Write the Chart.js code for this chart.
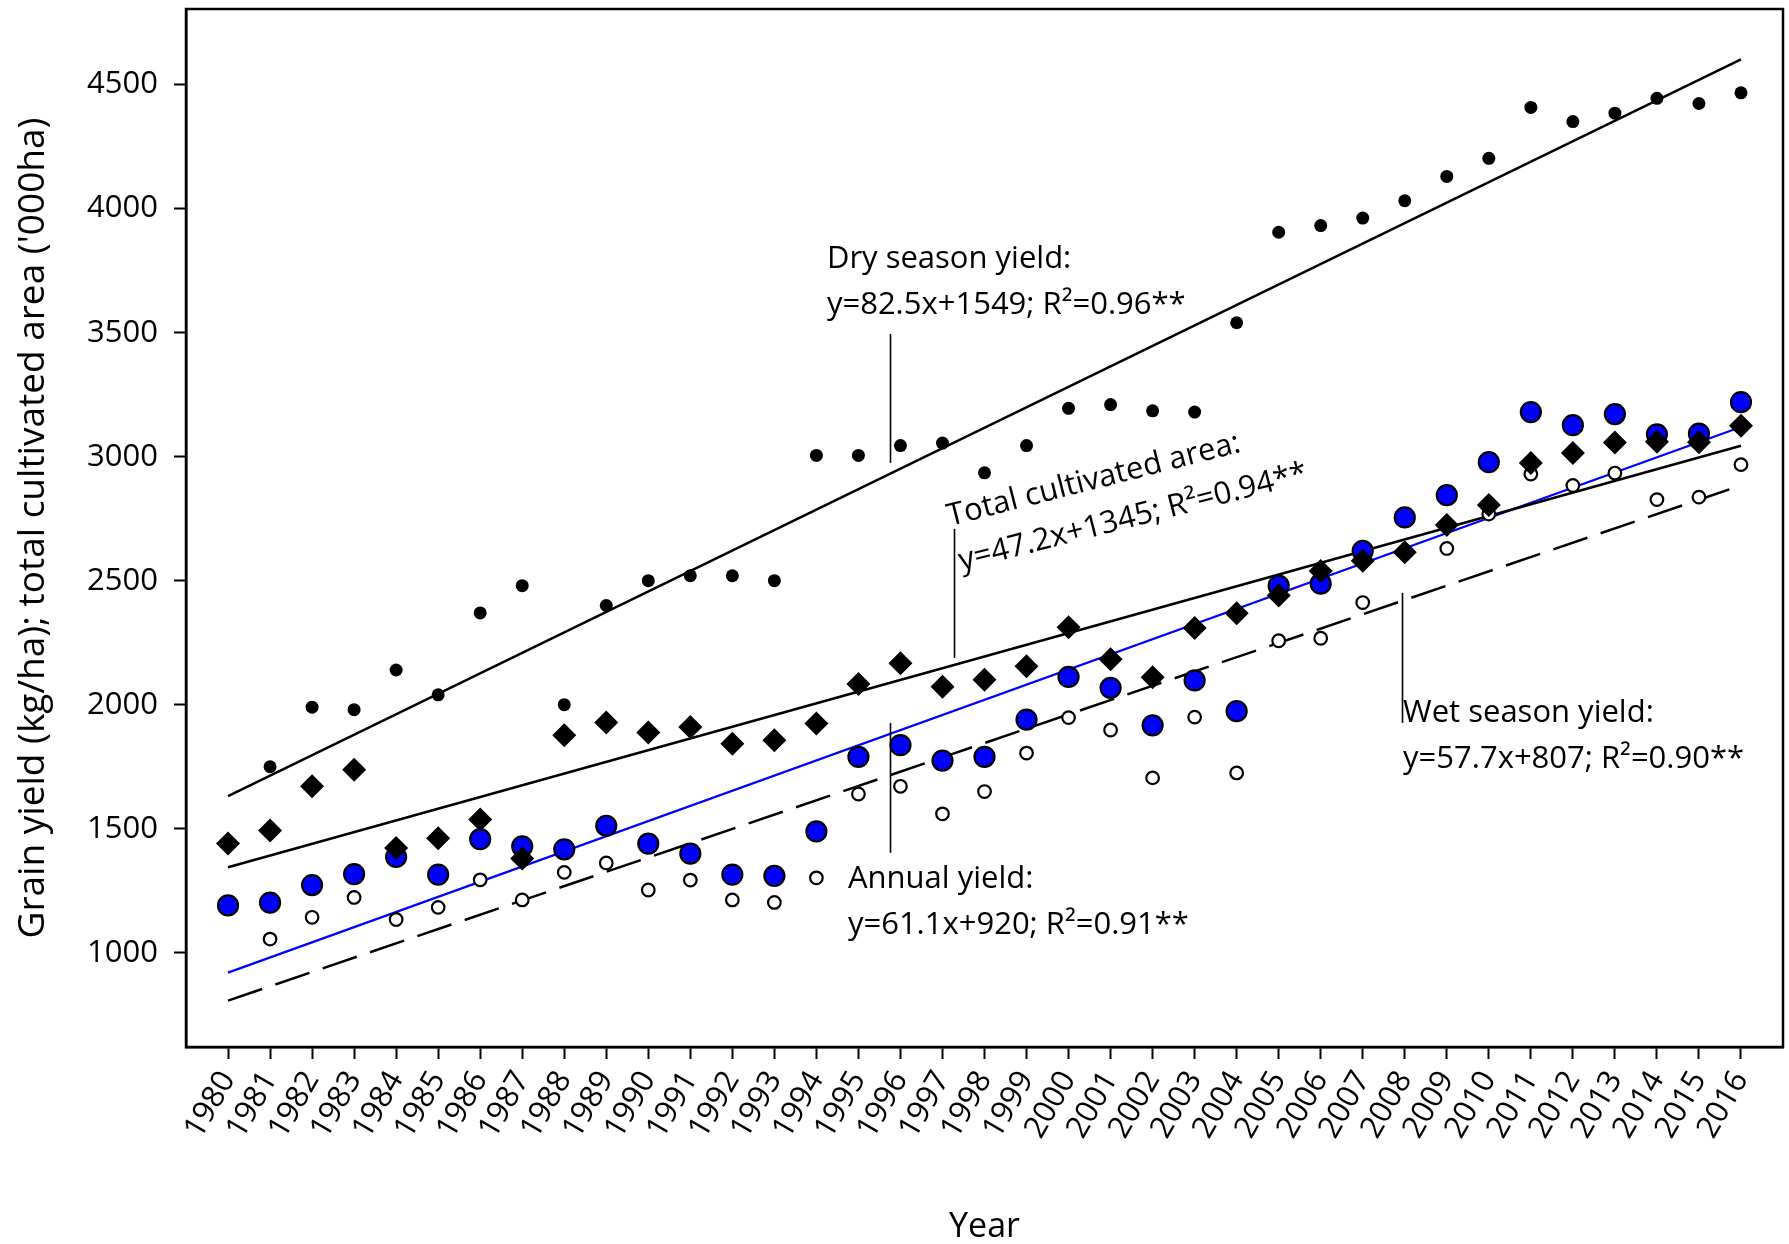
<!DOCTYPE html>
<html>
<head>
<meta charset="utf-8">
<script src="https://cdn.jsdelivr.net/npm/chart.js@4/dist/chart.umd.min.js"></script>
<style>
  body { margin: 0; background: #fff; }
  canvas { display: block; }
</style>
</head>
<body>
<canvas id="canvas1" width="1789" height="1244"></canvas>
<script>
// one value per year, 1980..2016 (null = no point shown)
const years = [1980, 1981, 1982, 1983, 1984, 1985, 1986, 1987, 1988, 1989, 1990, 1991, 1992,
  1993, 1994, 1995, 1996, 1997, 1998, 1999, 2000, 2001, 2002, 2003, 2004, 2005, 2006, 2007,
  2008, 2009, 2010, 2011, 2012, 2013, 2014, 2015, 2016];

const dryYield = [null, 1750, 1990, 1980, 2140, 2040, 2370, 2480, 2000, 2400, 2500, 2520, 2520,
  2500, 3005, 3005, 3045, 3055, 2935, 3045, 3195, 3210, 3185, 3180, 3540, 3905, 3932, 3962,
  4032, 4130, 4203, 4408, 4351, 4385, 4445, 4424, 4467];

const annualYield = [1191, 1202, 1273, 1317, 1386, 1315, 1458, 1429, 1417, 1512, 1440, 1400, 1315,
  1310, 1489, 1790, 1837, 1775, 1790, 1940, 2112, 2068, 1917, 2098, 1974, 2480, 2488, 2620,
  2755, 2845, 2978, 3180, 3127, 3172, 3090, 3093, 3220];

const totalArea = [1440, 1493, 1671, 1738, 1422, 1462, 1537, 1380, 1877, 1928, 1888, 1910, 1843,
  1857, 1924, 2084, 2167, 2072, 2101, 2155, 2312, 2183, 2111, 2309, 2369, 2440, 2539, 2580,
  2615, 2725, 2805, 2975, 3015, 3057, 3060, 3058, 3125];

const wetYield = [null, 1055, 1143, 1223, 1134, 1183, 1294, 1213, 1324, 1362, 1253, 1293, 1213,
  1203, 1302, 1640, 1671, 1560, 1650, 1805, 1948, 1898, 1705, 1950, 1725, 2258, 2268, 2412,
  null, 2630, 2769, 2930, 2884, 2934, 2827, 2837, 2968];

// fitted trend lines, values at first and last year
const fitYears = [1980, 2016];
const dryFit = [1631.5, 4601.5];
const areaFit = [1345, 3044];
const annualFit = [920, 3120];
const wetFit = [807, 2884];

const yTickValues = [1000, 1500, 2000, 2500, 3000, 3500, 4000, 4500];

const FONT = "'Open Sans', sans-serif";

function points(vals) {
  return years.map((yr, i) => ({ x: yr, y: vals[i] })).filter(p => p.y !== null);
}
function fit(vals) {
  return fitYears.map((yr, i) => ({ x: yr, y: vals[i] }));
}

// equation labels and their leader lines (placed in axis units)
const notes = [
  { x: 1994.25, y: 3761, rot: 0, lines: ["Dry season yield:", "y=82.5x+1549; R\u00b2=0.96**"] },
  { x: 1997.18, y: 2721, rot: -14.3, lines: ["Total cultivated area:", "y=47.2x+1345; R\u00b2=0.94**"] },
  { x: 1994.75, y: 1262, rot: 0, lines: ["Annual yield:", "y=61.1x+920; R\u00b2=0.91**"] },
  { x: 2007.96, y: 1931, rot: 0, lines: ["Wet season yield:", "y=57.7x+807; R\u00b2=0.90**"] }
];
const leaders = [
  { x: 1995.75, y0: 3495, y1: 2975 },
  { x: 1997.27, y0: 2709, y1: 2189 },
  { x: 1995.75, y0: 1927, y1: 1403 },
  { x: 2007.93, y0: 2451, y1: 1927 }
];

const frameAndNotes = {
  id: "frameAndNotes",
  afterDatasetsDraw(chart) {
    const { ctx, chartArea: a, scales } = chart;
    const xs = scales.x, ys = scales.y;
    ctx.save();
    ctx.strokeStyle = "#000";
    ctx.lineWidth = 2.5;
    ctx.strokeRect(a.left, a.top, a.right - a.left, a.bottom - a.top);

    ctx.lineWidth = 1.6;
    leaders.forEach(l => {
      const px = Math.round(xs.getPixelForValue(l.x)) + 0.5;
      ctx.beginPath();
      ctx.moveTo(px, ys.getPixelForValue(l.y0));
      ctx.lineTo(px, ys.getPixelForValue(l.y1));
      ctx.stroke();
    });

    ctx.fillStyle = "#000";
    ctx.font = "31px " + FONT;
    ctx.textBaseline = "alphabetic";
    ctx.textAlign = "left";
    notes.forEach(n => {
      ctx.save();
      ctx.translate(xs.getPixelForValue(n.x), ys.getPixelForValue(n.y));
      ctx.rotate(n.rot * Math.PI / 180);
      n.lines.forEach((t, i) => ctx.fillText(t, 0, i * 46));
      ctx.restore();
    });
    ctx.restore();
  }
};

window.onload = function () {
  let ctx1 = document.getElementById("canvas1").getContext("2d");
  new Chart(ctx1, {
    type: "scatter",
    data: {
      datasets: [
        {
          label: "Total cultivated area",
          data: points(totalArea),
          pointStyle: "rectRot",
          pointRadius: 12,
          backgroundColor: "#000",
          borderColor: "#000",
          borderWidth: 0,
          order: 0
        },
        {
          label: "Annual yield",
          data: points(annualYield),
          pointRadius: 10,
          backgroundColor: "#0000ff",
          borderColor: "#000",
          borderWidth: 2.2,
          order: 1
        },
        {
          label: "Wet season yield",
          data: points(wetYield),
          pointRadius: 6.3,
          backgroundColor: "#fff",
          borderColor: "#000",
          borderWidth: 2.2,
          order: 2
        },
        {
          label: "Dry season yield",
          data: points(dryYield),
          pointRadius: 6.5,
          backgroundColor: "#000",
          borderColor: "#000",
          borderWidth: 0,
          order: 3
        },
        {
          label: "Dry fit",
          data: fit(dryFit),
          showLine: true,
          pointRadius: 0,
          borderColor: "#000",
          borderWidth: 2.5,
          order: 4
        },
        {
          label: "Area fit",
          data: fit(areaFit),
          showLine: true,
          pointRadius: 0,
          borderColor: "#000",
          borderWidth: 2.5,
          order: 5
        },
        {
          label: "Annual fit",
          data: fit(annualFit),
          showLine: true,
          pointRadius: 0,
          borderColor: "#0000ff",
          borderWidth: 2.2,
          order: 6
        },
        {
          label: "Wet fit",
          data: fit(wetFit),
          showLine: true,
          pointRadius: 0,
          borderColor: "#000",
          borderWidth: 2.5,
          borderDash: [36, 14],
          order: 7
        }
      ]
    },
    options: {
      responsive: false,
      animation: false,
      layout: { autoPadding: false, padding: { top: 9, right: 6, left: 0, bottom: 0 } },
      plugins: {
        legend: { display: false },
        tooltip: { enabled: false }
      },
      scales: {
        x: {
          type: "linear",
          position: "bottom",
          min: 1979,
          max: 2017,
          afterFit: s => {
            s.height = 197;
            s.paddingLeft = 0;
            s.paddingRight = 0;
          },
          afterBuildTicks: s => { s.ticks = years.map(v => ({ value: v })); },
          ticks: {
            callback: v => String(v),
            autoSkip: false,
            minRotation: 60,
            maxRotation: 60,
            padding: 6,
            color: "#000",
            font: { family: FONT, size: 31 }
          },
          grid: {
            drawOnChartArea: false,
            drawTicks: true,
            tickLength: 12,
            tickWidth: 2,
            color: "#000"
          },
          border: { display: true, color: "#000", width: 2.5 },
          title: {
            display: true,
            text: "Year",
            color: "#000",
            padding: { top: 0, bottom: 0 },
            font: { family: FONT, size: 34, lineHeight: 1 }
          }
        },
        y: {
          type: "linear",
          min: 620,
          max: 4805,
          afterFit: s => {
            s.width = 186;
            s.paddingTop = 0;
            s.paddingBottom = 0;
          },
          afterBuildTicks: s => { s.ticks = yTickValues.map(v => ({ value: v })); },
          ticks: {
            callback: v => String(v),
            padding: 16,
            color: "#000",
            font: { family: FONT, size: 31 }
          },
          grid: {
            drawOnChartArea: false,
            drawTicks: true,
            tickLength: 12,
            tickWidth: 2,
            color: "#000"
          },
          border: { display: true, color: "#000", width: 2.5 },
          title: {
            display: true,
            text: "Grain yield (kg/ha); total cultivated area ('000ha)",
            color: "#000",
            padding: { top: 15, bottom: 0 },
            font: { family: FONT, size: 37, lineHeight: 1 }
          }
        }
      }
    },
    plugins: [frameAndNotes]
  });
};
</script>
</body>
</html>
